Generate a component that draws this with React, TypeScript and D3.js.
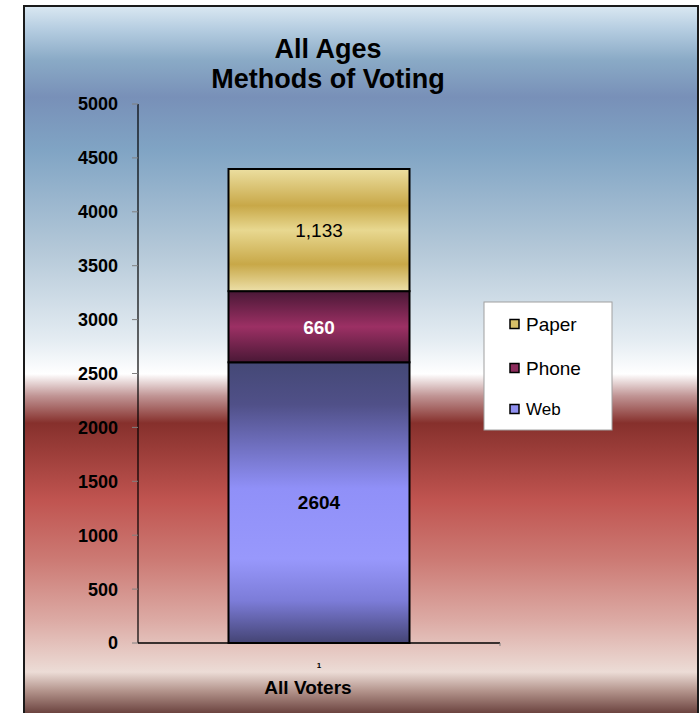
import React, { useEffect, useRef } from 'react';
import * as d3 from 'd3';

// Chart data
const categories = ['1'];
const seriesNames = ['Web', 'Phone', 'Paper'];
const webValues = [2604];
const phoneValues = [660];
const paperValues = [1133];
const yTicks = [0, 500, 1000, 1500, 2000, 2500, 3000, 3500, 4000, 4500, 5000];
const titleLines = ['All Ages', 'Methods of Voting'];
const xAxisTitle = 'All Voters';
const legendOrder = ['Paper', 'Phone', 'Web'];

const App: React.FC = () => {
  const svgRef = useRef<SVGSVGElement>(null);

  useEffect(() => {
    if (!svgRef.current) return;
    const svg = d3.select(svgRef.current);
    svg.selectAll('*').remove();

    const W = 700;
    const H = 713;
    const frame = { x: 24, y: 6, w: 674, h: 720 };
    const plot = { left: 138, right: 500, top: 104, bottom: 643 };
    const font = '"Liberation Sans", Arial, sans-serif';

    svg.attr('width', W).attr('height', H);
    const defs = svg.append('defs');

    // Background gradient (blue sky to red)
    const bg = defs.append('linearGradient')
      .attr('id', 'bg')
      .attr('gradientUnits', 'userSpaceOnUse')
      .attr('x1', 0).attr('x2', 0).attr('y1', 6).attr('y2', 713);
    const bgStops: [number, string][] = [
      [6, '#dae8f2'], [30, '#b4cce0'], [60, '#8aaac6'], [97, '#7890b8'],
      [150, '#80a4c4'], [250, '#b4c8d8'], [340, '#e4ecf2'], [374, '#ffffff'],
      [396, '#c09494'], [423, '#86302c'], [500, '#c05450'], [560, '#cc7a74'],
      [620, '#dcaaa4'], [672, '#ecdcd6'], [692, '#b09088'], [713, '#6c4440'],
    ];
    bgStops.forEach(([y, c]) => {
      bg.append('stop').attr('offset', (y - 6) / (713 - 6)).attr('stop-color', c);
    });

    const grad = (id: string, stops: [number, string][]) => {
      const g = defs.append('linearGradient').attr('id', id)
        .attr('x1', 0).attr('x2', 0).attr('y1', 0).attr('y2', 1);
      stops.forEach(([o, c]) => g.append('stop').attr('offset', o).attr('stop-color', c));
    };
    grad('g-Paper', [[0, '#ecdfa0'], [0.3, '#c8a848'], [0.5, '#e8d890'], [0.78, '#c8a848'], [1, '#ecdfa8']]);
    grad('g-Phone', [[0, '#4a1836'], [0.5, '#9c3064'], [1, '#4a1836']]);
    grad('g-Web', [[0, '#444876'], [0.15, '#505088'], [0.45, '#9090f8'], [0.7, '#9898fc'], [0.85, '#7c7cd8'], [1, '#444474']]);

    svg.append('rect')
      .attr('x', frame.x).attr('y', frame.y)
      .attr('width', frame.w).attr('height', frame.h)
      .attr('fill', 'url(#bg)')
      .attr('stroke', '#1a1a1a')
      .attr('stroke-width', 2);

    // Scales
    const x = d3.scaleBand<string>()
      .domain(categories)
      .range([plot.left, plot.right])
      .paddingInner(0)
      .paddingOuter(0.5);

    const y = d3.scaleLinear()
      .domain([0, 5000])
      .range([plot.bottom, plot.top]);

    const rows = categories.map((c, i) => ({
      category: c,
      Web: webValues[i],
      Phone: phoneValues[i],
      Paper: paperValues[i],
    }));
    const stacked = d3.stack<any>().keys(seriesNames)(rows);

    const labelStyle: Record<string, { fmt: (n: number) => string; weight: string; color: string }> = {
      Web: { fmt: d3.format('d'), weight: 'bold', color: '#000' },
      Phone: { fmt: d3.format('d'), weight: 'bold', color: '#fff' },
      Paper: { fmt: d3.format(','), weight: 'normal', color: '#000' },
    };

    // Bars
    stacked.forEach(series => {
      const g = svg.append('g');
      g.selectAll('rect')
        .data(series)
        .enter().append('rect')
        .attr('x', d => x(d.data.category) || 0)
        .attr('y', d => y(d[1]))
        .attr('width', x.bandwidth())
        .attr('height', d => y(d[0]) - y(d[1]))
        .attr('fill', `url(#g-${series.key})`)
        .attr('stroke', '#000')
        .attr('stroke-width', 2);

      const st = labelStyle[series.key];
      g.selectAll('text')
        .data(series)
        .enter().append('text')
        .attr('x', d => (x(d.data.category) || 0) + x.bandwidth() / 2)
        .attr('y', d => (y(d[0]) + y(d[1])) / 2)
        .attr('dy', '0.36em')
        .attr('text-anchor', 'middle')
        .style('font-family', font)
        .style('font-size', '19px')
        .style('font-weight', st.weight)
        .attr('fill', st.color)
        .text(d => st.fmt(d[1] - d[0]));
    });

    // Y axis
    svg.append('line')
      .attr('x1', plot.left).attr('x2', plot.left)
      .attr('y1', plot.top).attr('y2', plot.bottom)
      .attr('stroke', '#000').attr('stroke-width', 1.2);
    const yAxis = svg.append('g');
    yAxis.selectAll('line')
      .data(yTicks)
      .enter().append('line')
      .attr('x1', plot.left - 6).attr('x2', plot.left)
      .attr('y1', d => y(d)).attr('y2', d => y(d))
      .attr('stroke', '#808080').attr('stroke-width', 1);
    yAxis.selectAll('text')
      .data(yTicks)
      .enter().append('text')
      .attr('x', 118)
      .attr('y', d => y(d))
      .attr('dy', '0.36em')
      .attr('text-anchor', 'end')
      .style('font-family', font)
      .style('font-size', '18px')
      .style('font-weight', 'bold')
      .text(d => String(d));

    // X axis
    svg.append('line')
      .attr('x1', plot.left).attr('x2', plot.right)
      .attr('y1', plot.bottom).attr('y2', plot.bottom)
      .attr('stroke', '#000').attr('stroke-width', 1.5);
    svg.append('line')
      .attr('x1', plot.right).attr('x2', plot.right)
      .attr('y1', plot.bottom).attr('y2', plot.bottom + 3)
      .attr('stroke', '#808080');
    svg.append('g').selectAll('text')
      .data(categories)
      .enter().append('text')
      .attr('x', d => (x(d) || 0) + x.bandwidth() / 2)
      .attr('y', 668)
      .attr('text-anchor', 'middle')
      .style('font-family', font)
      .style('font-size', '8px')
      .style('font-weight', 'bold')
      .text(d => d);

    svg.append('text')
      .attr('x', (plot.left + plot.right) / 2 - 11)
      .attr('y', 694)
      .attr('text-anchor', 'middle')
      .style('font-family', font)
      .style('font-size', '19px')
      .style('font-weight', 'bold')
      .text(xAxisTitle);

    // Title
    titleLines.forEach((t, i) => {
      svg.append('text')
        .attr('x', 328)
        .attr('y', 58 + i * 30)
        .attr('text-anchor', 'middle')
        .style('font-family', font)
        .style('font-size', '27px')
        .style('font-weight', 'bold')
        .text(t);
    });

    // Legend
    const legendColors: Record<string, string> = { Paper: '#d8c068', Phone: '#8c2c5c', Web: '#9090f0' };
    const legendItems = [
      { y: 324, size: 19 },
      { y: 368, size: 19 },
      { y: 409, size: 17 },
    ];
    const legend = svg.append('g');
    legend.append('rect')
      .attr('x', 484).attr('y', 302)
      .attr('width', 128).attr('height', 128)
      .attr('fill', '#fff')
      .attr('stroke', '#a0a0a0');
    legendOrder.forEach((name, i) => {
      const it = legendItems[i];
      legend.append('rect')
        .attr('x', 510).attr('y', it.y - 4.5)
        .attr('width', 9).attr('height', 9)
        .attr('fill', legendColors[name])
        .attr('stroke', '#000').attr('stroke-width', 1.5);
      legend.append('text')
        .attr('x', 526)
        .attr('y', it.y)
        .attr('dy', '0.36em')
        .style('font-family', font)
        .style('font-size', `${it.size}px`)
        .text(name);
    });
  }, []);

  return (
    <svg
      ref={svgRef}
      style={{ position: 'absolute', left: 0, top: 0, display: 'block' }}
    ></svg>
  );
};

export default App;
